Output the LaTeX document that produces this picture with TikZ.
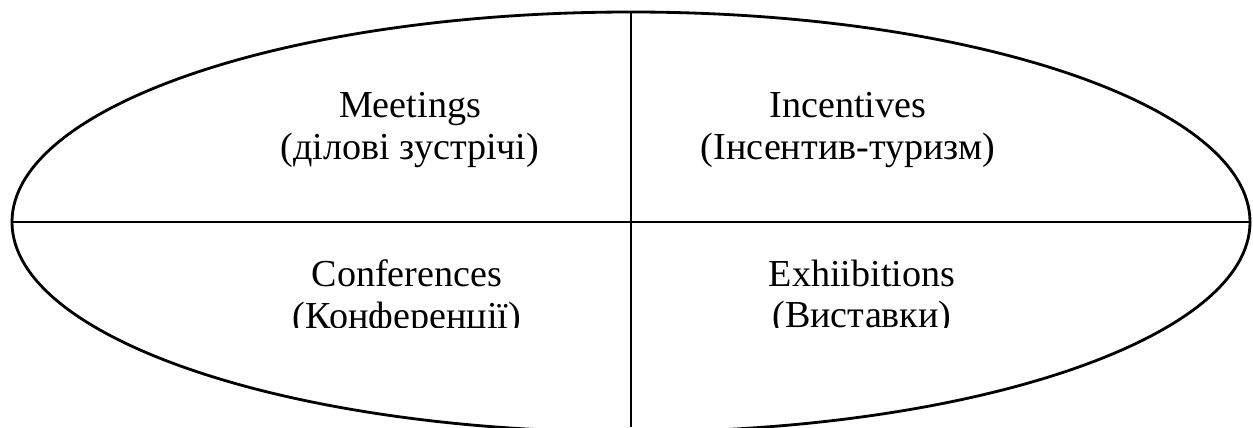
\documentclass[tikz,border=0pt]{standalone}
\usepackage{fontspec}
\setmainfont{Liberation Serif}
\begin{document}
\begin{tikzpicture}[
    trait/.style={line width=1.6pt},
    texte/.style={align=center, inner sep=0pt, font=\fontsize{21.7pt}{23.6pt}\selectfont}
]
    \useasboundingbox (0,0) rectangle (25.06,8.54);
    \clip (0,0) rectangle (25.06,8.54);

    % Ellipse
    \draw[trait] (12.62,4.10) ellipse (12.38 and 4.20);

    % Axes
    \coordinate (gauche) at (0.24,4.10);
    \coordinate (droite) at (25.00,4.10);
    \coordinate (haut) at (12.62,8.30);
    \coordinate (bas) at (12.62,0);
    \draw[trait] (gauche) -- (droite);
    \draw[trait] (haut) -- (bas);

    % Quadrants du haut
    \node[texte] (meet) at (8.20,5.94) {Meetings\\(ділові зустрічі)};
    \node[texte] (incent) at (16.96,5.94) {Incentives\\(Інсентив-туризм)};

    % Quadrants du bas
    \begin{scope}
        \clip (0,2.00) rectangle (25.06,8.54);
        \node[texte] (confer) at (8.14,2.58) {Conferences\\(Конференції)};
        \node[texte] (exhib) at (17.24,2.58) {Exhiibitions\\(Виставки)};
    \end{scope}
\end{tikzpicture}
\end{document}
